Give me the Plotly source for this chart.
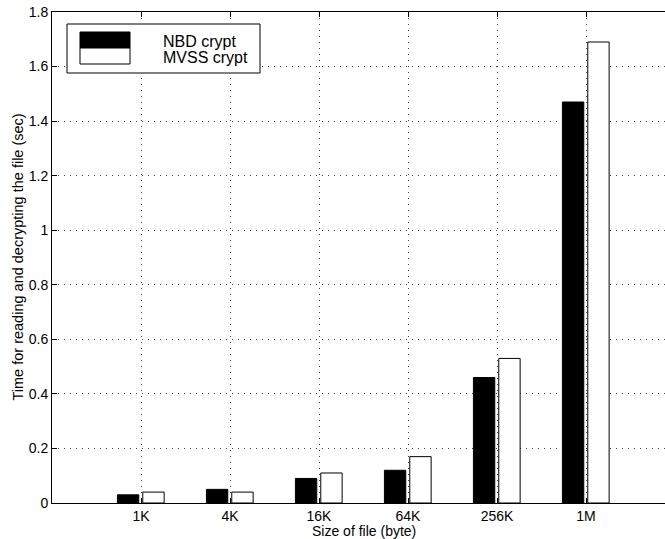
import plotly.graph_objects as go

# File sizes and timing results (seconds)
sizes = ["1K", "4K", "16K", "64K", "256K", "1M"]
nbd_times = [0.03, 0.05, 0.09, 0.12, 0.46, 1.47]
mvss_times = [0.04, 0.04, 0.11, 0.17, 0.53, 1.69]
series_names = ["NBD crypt", "MVSS crypt"]
y_ticks = [0, 0.2, 0.4, 0.6, 0.8, 1, 1.2, 1.4, 1.6, 1.8]

W, H = 665, 539
L, R, T, B = 52, 0, 12, 36
FONT = "Liberation Sans, Arial, Helvetica, sans-serif"

positions = list(range(1, len(sizes) + 1))


def px(x):
    return (x - L) / (W - L - R)


def py(y):
    return (H - B - y) / (H - T - B)


fig = go.Figure()
fig.add_trace(go.Bar(
    x=positions, y=nbd_times, name=series_names[0],
    offset=-0.265, width=0.24,
    marker=dict(color="black", line=dict(color="black", width=1)),
    showlegend=False,
))
fig.add_trace(go.Bar(
    x=positions, y=mvss_times, name=series_names[1],
    offset=0.02, width=0.24,
    marker=dict(color="white", line=dict(color="black", width=1)),
    showlegend=False,
))

grid = dict(showgrid=True, gridcolor="#444444", griddash="1px,5px", gridwidth=1)

fig.update_layout(
    width=W, height=H,
    margin=dict(l=L, r=R, t=T, b=B),
    paper_bgcolor="white", plot_bgcolor="white",
    barmode="overlay",
    font=dict(family=FONT, color="black", size=14),
    xaxis=dict(
        range=[0, (W - L - R) / 89.0],
        tickvals=positions, ticktext=sizes,
        ticks="inside", ticklen=5, tickcolor="black",
        showline=True, linecolor="black", linewidth=1, mirror="ticks",
        zeroline=False, tickfont=dict(size=14), **grid,
    ),
    yaxis=dict(
        range=[0, 1.8],
        tickvals=y_ticks, ticktext=[f"{v:g}" for v in y_ticks],
        ticks="inside", ticklen=5, tickcolor="black",
        showline=True, linecolor="black", linewidth=1, mirror=False,
        zeroline=False, tickfont=dict(size=14), **grid,
    ),
)

# Axis titles
fig.add_annotation(
    x=3.5, xref="x", y=py(531), yref="paper",
    text="Size of file (byte)", showarrow=False,
    xanchor="center", yanchor="middle", font=dict(size=14),
)
fig.add_annotation(
    x=px(17), xref="paper", y=0.5, yref="paper",
    text="Time for reading and decrypting the file (sec)", showarrow=False,
    textangle=-90, xanchor="center", yanchor="middle", font=dict(size=14.5),
)

# Legend box with swatches
shapes = [
    dict(type="rect", xref="paper", yref="paper",
         x0=px(67), x1=px(260), y0=py(73), y1=py(24),
         line=dict(color="black", width=1), fillcolor="white", layer="above"),
    dict(type="rect", xref="paper", yref="paper",
         x0=px(80), x1=px(130), y0=py(48), y1=py(32),
         line=dict(color="black", width=1), fillcolor="black", layer="above"),
    dict(type="rect", xref="paper", yref="paper",
         x0=px(80), x1=px(130), y0=py(64), y1=py(48),
         line=dict(color="black", width=1), fillcolor="white", layer="above"),
]
fig.update_layout(shapes=shapes)
for name, yc in zip(series_names, [41, 57]):
    fig.add_annotation(
        x=px(161), xref="paper", y=py(yc), yref="paper",
        text=name, showarrow=False, xanchor="left", yanchor="middle",
        font=dict(size=16),
    )

fig.write_html("out.html")
